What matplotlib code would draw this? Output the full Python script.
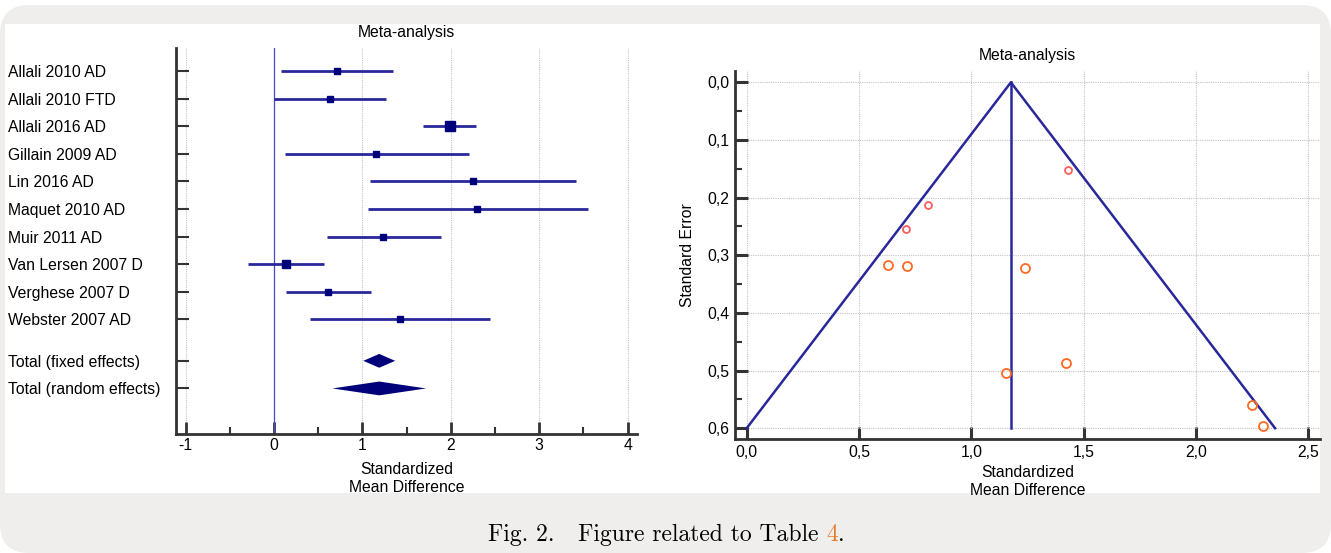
import matplotlib
matplotlib.use("Agg")
import matplotlib.pyplot as plt
from matplotlib.patches import FancyBboxPatch, Rectangle
from matplotlib.ticker import MultipleLocator

# forest plot data
studies = ["Allali 2010 AD", "Allali 2010 FTD", "Allali 2016 AD", "Gillain 2009 AD",
           "Lin 2016 AD", "Maquet 2010 AD", "Muir 2011 AD", "Van Lersen 2007 D",
           "Verghese 2007 D", "Webster 2007 AD"]
smd = [0.71, 0.63, 1.99, 1.15, 2.25, 2.30, 1.23, 0.13, 0.61, 1.42]
ci_low = [0.08, 0.00, 1.69, 0.12, 1.09, 1.06, 0.60, -0.30, 0.14, 0.41]
ci_high = [1.35, 1.27, 2.28, 2.21, 3.42, 3.55, 1.89, 0.56, 1.10, 2.44]
weights = [4.8, 4.8, 6.8, 4.6, 4.5, 4.5, 4.8, 6.4, 5.0, 4.6]

totals = ["Total (fixed effects)", "Total (random effects)"]
total_est = [1.19, 1.19]
total_low = [1.01, 0.66]
total_high = [1.37, 1.72]

forest_xticks = [-1, 0, 1, 2, 3, 4]
forest_xlabels = ["-1", "0", "1", "2", "3", "4"]

# funnel plot data
pooled = 1.176
se_max = 0.6
funnel_smd = [1.431, 0.805, 0.710, 0.630, 0.713, 1.240, 1.155, 1.423, 2.249, 2.300]
funnel_se = [0.152, 0.212, 0.255, 0.316, 0.318, 0.322, 0.504, 0.486, 0.560, 0.596]

funnel_xticks = [0.0, 0.5, 1.0, 1.5, 2.0, 2.5]
funnel_xlabels = ["0,0", "0,5", "1,0", "1,5", "2,0", "2,5"]
funnel_yticks = [0.0, 0.1, 0.2, 0.3, 0.4, 0.5, 0.6]
funnel_ylabels = ["0,0", "0,1", "0,2", "0,3", "0,4", "0,5", "0,6"]

plt.rcParams["font.family"] = ["Liberation Sans", "DejaVu Sans"]
plt.rcParams["font.size"] = 11.3

W, H = 1331, 553
fig = plt.figure(figsize=(W / 100, H / 100), dpi=100)
fig.patch.set_facecolor("white")


def px_box(l, t, r, b):
    return [l / W, 1 - b / H, (r - l) / W, (b - t) / H]


# grey frame and white panel
frame = FancyBboxPatch((0, 0), 1, 1 - 5 / H, boxstyle="round,pad=0,rounding_size=0.022",
                       mutation_aspect=W / H, transform=fig.transFigure,
                       fc="#efeeec", ec="none", zorder=-10)
fig.patches.append(frame)
l, b, w, h = px_box(5, 24, 1320, 493)
fig.patches.append(Rectangle((l, b), w, h, transform=fig.transFigure,
                             fc="white", ec="none", zorder=-9))

spine_c = "#333333"
line_c = "#28289a"
mark_c = "#00007a"

# ---- forest plot ----
ax1 = fig.add_axes(px_box(176, 48, 637, 434))
ax1.set_facecolor("none")
n = len(studies)
rows = list(range(n))
total_rows = [n + 0.5, n + 1.5]

for r, lo, hi, est, wt in zip(rows, ci_low, ci_high, smd, weights):
    ax1.plot([lo, hi], [r, r], color=line_c, lw=2, solid_capstyle="butt", zorder=3)
    ax1.plot(est, r, marker="s", ms=wt, color=mark_c, mec=mark_c, zorder=4)

for r, lo, hi, est in zip(total_rows, total_low, total_high, total_est):
    dh = 0.25
    ax1.fill([lo, est, hi, est], [r, r - dh, r, r + dh], color=mark_c, lw=0, zorder=4)

ax1.axvline(0, color="#4a4ac8", lw=0.9, zorder=2)

ax1.set_xlim(-1.109, 4.106)
ax1.set_ylim(13.15, -0.83)
ax1.set_xticks(forest_xticks)
ax1.set_xticklabels(forest_xlabels)
ax1.xaxis.set_minor_locator(MultipleLocator(0.5))
ax1.set_yticks(rows + total_rows)
ax1.set_yticklabels(studies + totals)
for lab in ax1.get_yticklabels():
    lab.set_ha("left")
ax1.tick_params(axis="y", direction="in", length=9, width=1.5, color=spine_c, pad=121)
ax1.tick_params(axis="x", which="major", direction="in", length=9, width=2, color=spine_c, pad=3)
ax1.tick_params(axis="x", which="minor", direction="in", length=5, width=1.5, color=spine_c)
ax1.xaxis.grid(True, linestyle=(0, (1, 1)), color="#c4c4c4", lw=0.8, zorder=0)
for s in ["top", "right"]:
    ax1.spines[s].set_visible(False)
for s in ["left", "bottom"]:
    ax1.spines[s].set_linewidth(2)
    ax1.spines[s].set_color(spine_c)
ax1.set_title("Meta-analysis", fontsize=11.3, pad=8)
ax1.set_xlabel("Standardized\nMean Difference", labelpad=6, linespacing=1.25)

# ---- funnel plot ----
ax2 = fig.add_axes(px_box(735, 71, 1320, 439))
ax2.set_facecolor("none")
x_left = pooled - 1.96 * se_max
x_right = pooled + 1.96 * se_max
ax2.plot([x_left, pooled, x_right], [se_max, 0, se_max], color=line_c, lw=1.8, zorder=3)
ax2.plot([pooled, pooled], [0, se_max], color=line_c, lw=1.8, zorder=3)

pt_colors = ["#ff5c5c"] * 3 + ["#ff6a22"] * 7
pt_sizes = [5.0] * 3 + [6.5] * 7
for x, y, c, s in zip(funnel_smd, funnel_se, pt_colors, pt_sizes):
    ax2.plot(x, y, marker="o", ms=s, mfc="none", mec=c, mew=1.3, zorder=4)

ax2.set_xlim(-0.052, 2.552)
ax2.set_ylim(0.6187, -0.0197)
ax2.set_xticks(funnel_xticks)
ax2.set_xticklabels(funnel_xlabels)
ax2.set_yticks(funnel_yticks)
ax2.set_yticklabels(funnel_ylabels)
ax2.yaxis.set_minor_locator(MultipleLocator(0.05))
ax2.tick_params(axis="both", which="major", direction="in", length=9, width=2.2, color=spine_c, pad=4)
ax2.tick_params(axis="y", which="minor", direction="in", length=5, width=1.5, color=spine_c)
ax2.grid(True, linestyle=(0, (1, 1)), color="#c4c4c4", lw=0.8, zorder=0)
for s in ["top", "right"]:
    ax2.spines[s].set_visible(False)
for s in ["left", "bottom"]:
    ax2.spines[s].set_linewidth(2)
    ax2.spines[s].set_color(spine_c)
ax2.set_title("Meta-analysis", fontsize=11.3, pad=8)
ax2.set_xlabel("Standardized\nMean Difference", labelpad=4, linespacing=1.2)
ax2.set_ylabel("Standard Error", labelpad=9)

# ---- caption with coloured table number ----
renderer = fig.canvas.get_renderer()
cap_font = dict(family="cmr10", fontsize=17)
cap_y = (553 - 535) / H
head = "Fig. 2.   Figure related to Table"
full = head + " 4"
tmp = fig.text(0, 0, full + ".", **cap_font)
total_w = tmp.get_window_extent(renderer).width
tmp2 = fig.text(0, 0, full, **cap_font)
w4 = tmp2.get_window_extent(renderer).width
tmp.remove()
tmp2.remove()
x0 = 666 - total_w / 2
fig.text(x0 / W, cap_y, head, ha="left", va="center", **cap_font)
fig.text((x0 + w4) / W, cap_y, "4", ha="right", va="center", color="#e8792a", **cap_font)
fig.text((x0 + w4) / W, cap_y, ".", ha="left", va="center", **cap_font)

fig.savefig("out.png", dpi=100)
